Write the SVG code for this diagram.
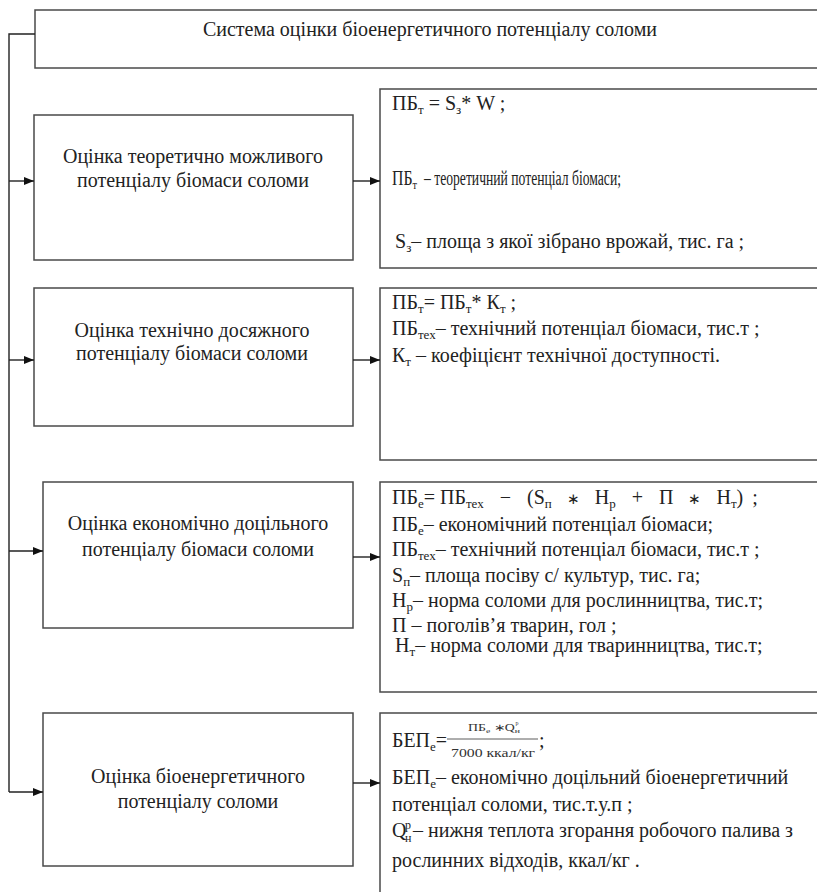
<svg xmlns="http://www.w3.org/2000/svg" width="817" height="892" viewBox="0 0 817 892">
<defs>
<marker id="ah" markerWidth="10" markerHeight="8" refX="10" refY="4" orient="auto" markerUnits="userSpaceOnUse"><path d="M0,0 L10,4 L0,8 z" fill="#111"/></marker>
<style>
.box{fill:#fff;stroke:#4a4a4a;stroke-width:1.5}
.t{font-family:"Liberation Serif","Times New Roman",serif;font-size:20px;fill:#222}
.c{text-anchor:middle}
.s{font-size:13px;baseline-shift:-4px}
.sm{font-size:12px}
.op{font-size:15px}
.con{fill:none;stroke:#222;stroke-width:1.4}
.fr{font-family:"Liberation Serif","Times New Roman",serif;fill:#333;text-anchor:middle}
</style>
</defs>
<rect width="817" height="892" fill="#fff"/>

<g id="title">
<rect class="box" x="35" y="10" width="800" height="58"/>
<text class="t c" x="430" y="36">Система оцінки біоенергетичного потенціалу соломи</text>
</g>

<g id="left1">
<rect class="box" x="34" y="115" width="319" height="145"/>
<text class="t c" x="193" y="163">Оцінка теоретично можливого</text>
<text class="t c" x="193" y="187">потенціалу біомаси соломи</text>
</g>
<g id="left2">
<rect class="box" x="34" y="288" width="319" height="138"/>
<text class="t c" x="192" y="337">Оцінка  технічно досяжного</text>
<text class="t c" x="192" y="360">потенціалу біомаси соломи</text>
</g>
<g id="left3">
<rect class="box" x="43" y="482" width="310" height="146"/>
<text class="t c" x="198" y="530">Оцінка  економічно доцільного</text>
<text class="t c" x="198" y="556">потенціалу біомаси соломи</text>
</g>
<g id="left4">
<rect class="box" x="43" y="713" width="310" height="153"/>
<text class="t c" x="198" y="783">Оцінка біоенергетичного</text>
<text class="t c" x="198" y="808">потенціалу соломи</text>
</g>

<g id="right1">
<rect class="box" x="380" y="89" width="450" height="179"/>
<text class="t" x="392" y="110">ПБ<tspan class="s">т</tspan> = S<tspan class="s">з</tspan>* W ;</text>
<text class="t" x="392" y="185" textLength="25" lengthAdjust="spacingAndGlyphs">ПБ<tspan class="s">т</tspan></text>
<text class="t" x="424" y="185" textLength="197" lengthAdjust="spacingAndGlyphs">– теоретичний потенціал біомаси;</text>
<text class="t" x="395" y="248">S<tspan class="s">з</tspan>– площа з якої зібрано врожай, тис. га ;</text>
</g>
<g id="right2">
<rect class="box" x="380" y="288" width="450" height="172"/>
<text class="t" x="392" y="309">ПБ<tspan class="s">т</tspan>= ПБ<tspan class="s">т</tspan>* К<tspan class="s">т</tspan> ;</text>
<text class="t" x="392" y="335">ПБ<tspan class="s">тех</tspan>– технічний потенціал біомаси, тис.т ;</text>
<text class="t" x="392" y="362">К<tspan class="s">т</tspan> – коефіцієнт технічної доступності.</text>
</g>
<g id="right3">
<rect class="box" x="380" y="482" width="450" height="210"/>
<text class="t" x="392" y="504">ПБ<tspan class="s">е</tspan>= ПБ<tspan class="s">тех</tspan><tspan dx="16">−</tspan><tspan dx="16">(S</tspan><tspan class="s">п</tspan><tspan class="op" dx="15">∗</tspan><tspan dx="15">Н</tspan><tspan class="s">р</tspan><tspan dx="16">+</tspan><tspan dx="16">П</tspan><tspan class="op" dx="15">∗</tspan><tspan dx="15">Н</tspan><tspan class="s">т</tspan>)<tspan dx="9">;</tspan></text>
<text class="t" x="392" y="531">ПБ<tspan class="s">е</tspan>– економічний потенціал біомаси;</text>
<text class="t" x="392" y="556">ПБ<tspan class="s">тех</tspan>– технічний потенціал біомаси, тис.т ;</text>
<text class="t" x="392" y="582">S<tspan class="s">п</tspan>–  площа посіву с/ культур, тис. га;</text>
<text class="t" x="392" y="607">Н<tspan class="s">р</tspan>– норма соломи для рослинництва, тис.т;</text>
<text class="t" x="392" y="632">П – поголів’я тварин, гол ;</text>
<text class="t" x="395" y="652">Н<tspan class="s">т</tspan>– норма соломи для тваринництва, тис.т;</text>
</g>
<g id="right4">
<rect class="box" x="380" y="713" width="450" height="200"/>
<text class="t" x="392" y="747" textLength="55" lengthAdjust="spacingAndGlyphs">БЕП<tspan class="s">е</tspan>=</text>
<text class="fr" x="494" y="731" font-size="10" textLength="52" lengthAdjust="spacingAndGlyphs">ПБ<tspan font-size="7" baseline-shift="-2px">е</tspan> ∗Q<tspan font-size="7" baseline-shift="-2px">н</tspan>  </text>
<text class="fr" x="517" y="725" font-size="6">р</text>
<line x1="447" y1="739" x2="538" y2="739" stroke="#333" stroke-width="0.8"/>
<text class="fr" x="493" y="757" font-size="12" textLength="84" lengthAdjust="spacingAndGlyphs">7000 ккал/кг</text>
<text class="t" x="539" y="747">;</text>
<text class="t" x="392" y="784">БЕП<tspan class="s">е</tspan>– економічно доцільний біоенергетичний</text>
<text class="t" x="392" y="811">потенціал соломи, тис.т.у.п  ;</text>
<text class="t" x="392" y="837">Q</text>
<text class="t sm" x="405" y="829">р</text>
<text class="t sm" x="405" y="842">н</text>
<text class="t" x="413" y="837">– нижня теплота згорання робочого палива з</text>
<text class="t" x="392" y="867">рослинних відходів, ккал/кг .</text>
</g>

<g id="connectors">
<path class="con" d="M35,34 H9 V792"/>
<line class="con" x1="9" y1="181" x2="34" y2="181" marker-end="url(#ah)"/>
<line class="con" x1="9" y1="360" x2="34" y2="360" marker-end="url(#ah)"/>
<line class="con" x1="9" y1="551" x2="43" y2="551" marker-end="url(#ah)"/>
<line class="con" x1="9" y1="792" x2="43" y2="792" marker-end="url(#ah)"/>
<line class="con" x1="353" y1="181" x2="380" y2="181" marker-end="url(#ah)"/>
<line class="con" x1="353" y1="360" x2="380" y2="360" marker-end="url(#ah)"/>
<line class="con" x1="353" y1="557" x2="380" y2="557" marker-end="url(#ah)"/>
<line class="con" x1="353" y1="783" x2="380" y2="783" marker-end="url(#ah)"/>
</g>
</svg>
